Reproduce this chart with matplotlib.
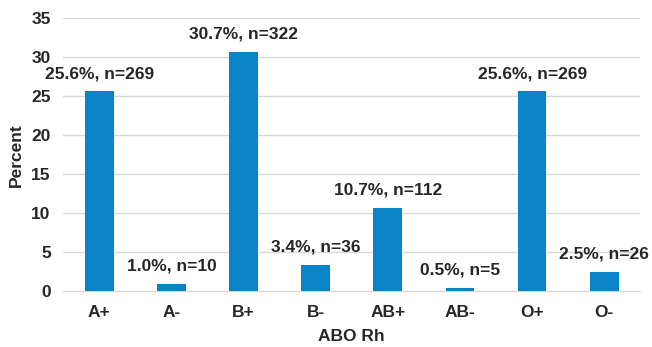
import matplotlib
matplotlib.use('Agg')
import matplotlib.pyplot as plt
import numpy as np

groups = ['A+', 'A-', 'B+', 'B-', 'AB+', 'AB-', 'O+', 'O-']
percent = [25.6, 1.0, 30.7, 3.4, 10.7, 0.5, 25.6, 2.5]
counts = [269, 10, 322, 36, 112, 5, 269, 26]

plt.rcParams['font.family'] = ['Liberation Sans', 'DejaVu Sans']
plt.rcParams['font.weight'] = 'bold'
text_color = '#262626'

fig = plt.figure(figsize=(6.52, 3.47), dpi=100)
ax = fig.add_axes([0.097, 0.16, 0.885, 0.788])

x = np.arange(len(groups))
ax.bar(x, percent, width=0.4, color='#0A84C8', zorder=3)

for xi, p, n in zip(x, percent, counts):
    ax.annotate(f'{p:.1f}%, n={n}', (xi, p), xytext=(0, 7.5), textcoords='offset points',
                ha='center', va='bottom', fontsize=12.5, fontweight='bold', color=text_color)

ax.set_xlim(-0.5, len(groups) - 0.5)
ax.set_ylim(0, 35)
ax.set_yticks(range(0, 36, 5))
ax.set_xticks(x)
ax.set_xticklabels(groups)
ax.yaxis.grid(True, color='#d9d9d9', linewidth=1, zorder=0)
ax.tick_params(axis='both', length=0, labelsize=12.5, colors=text_color)
ax.tick_params(axis='y', pad=9)
ax.tick_params(axis='x', pad=10)
for s in ['top', 'right', 'left']:
    ax.spines[s].set_visible(False)
ax.spines['bottom'].set_color('#d9d9d9')

ax.set_xlabel('ABO Rh', fontsize=12.5, fontweight='bold', color=text_color, labelpad=6)
ax.set_ylabel('Percent', fontsize=12.5, fontweight='bold', color=text_color, labelpad=5)

fig.savefig('out.png', dpi=100)
